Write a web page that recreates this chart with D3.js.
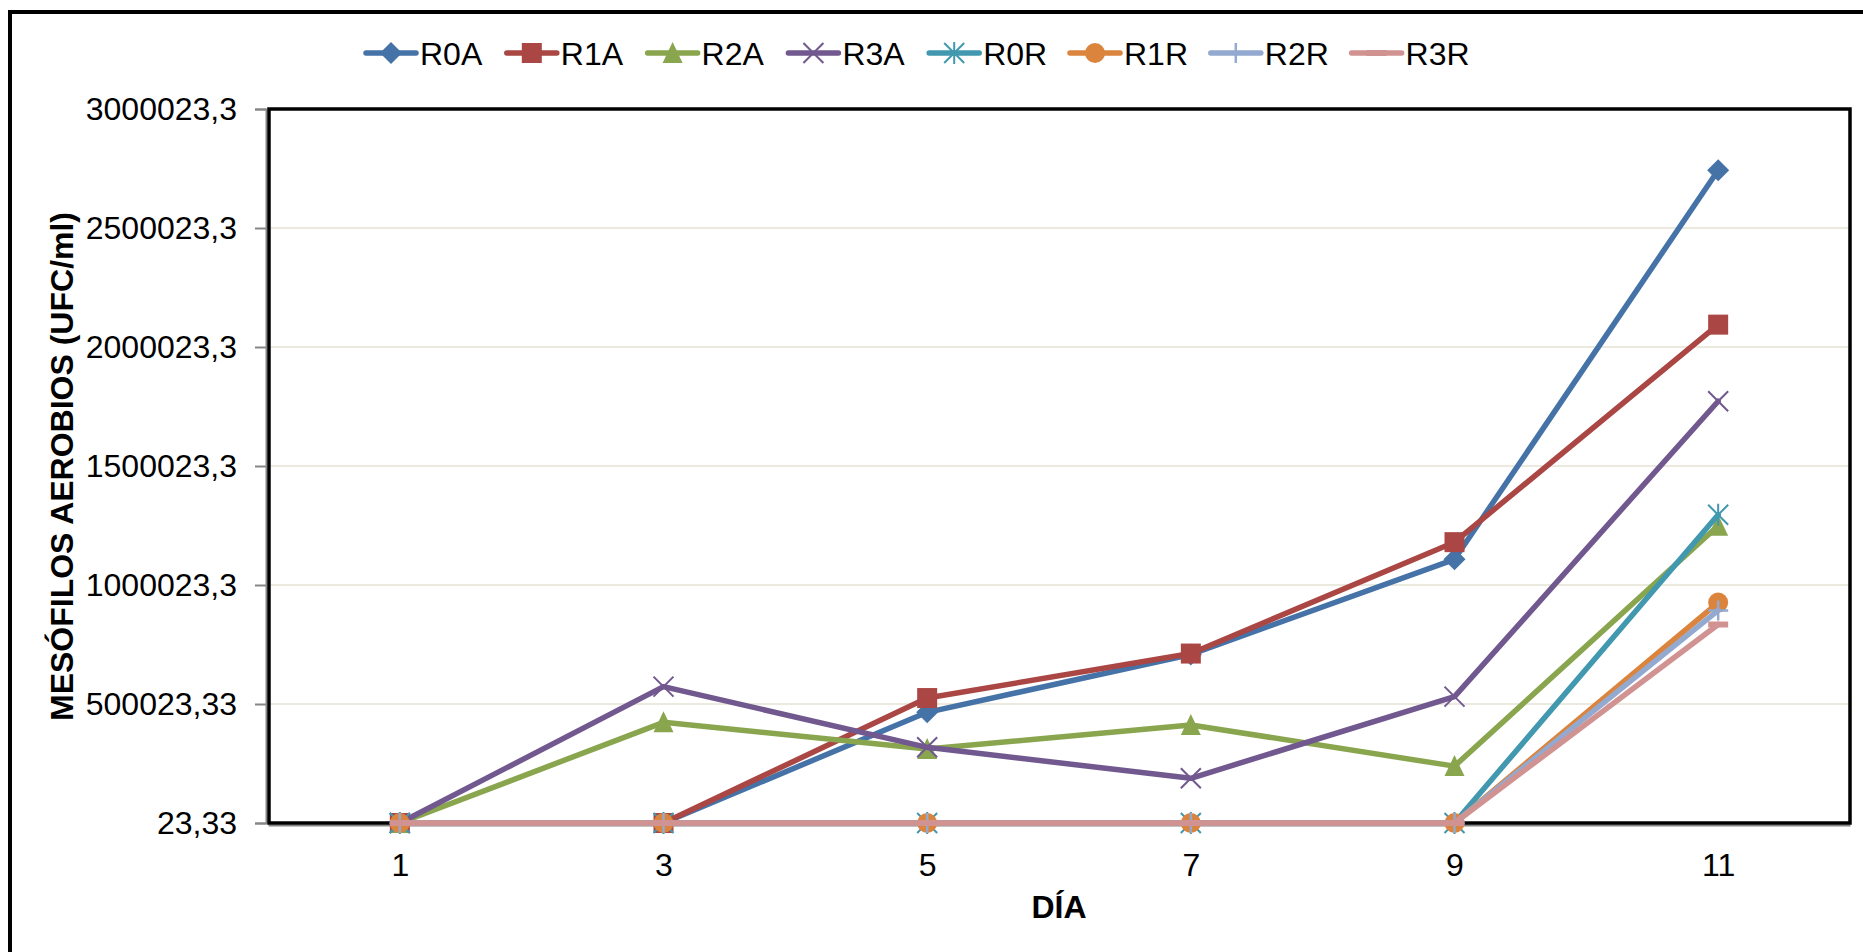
<!DOCTYPE html>
<html>
<head>
<meta charset="utf-8">
<script src="https://cdn.jsdelivr.net/npm/d3@7"></script>
<style>
  html, body { margin: 0; padding: 0; background: #fff; }
  svg { display: block; }
  text { font-family: "Liberation Sans", Arial, sans-serif; fill: #000; }
</style>
</head>
<body>
<svg id="chart" width="1863" height="952"></svg>
<script>
// Días de muestreo
const days = [1, 3, 5, 7, 9, 11];

// Recuento de mesófilos aerobios (UFC/ml) por tratamiento
const R0A = [23.33, 23.33, 465000, 708000, 1108000, 2743000];
const R1A = [23.33, 23.33, 525000, 712000, 1180000, 2094000];
const R2A = [23.33, 423000, 311000, 412000, 239000, 1249000];
const R3A = [23.33, 573000, 318000, 188000, 531000, 1772000];
const R0R = [23.33, 23.33, 23.33, 23.33, 23.33, 1295000];
const R1R = [23.33, 23.33, 23.33, 23.33, 23.33, 926000];
const R2R = [23.33, 23.33, 23.33, 23.33, 23.33, 893000];
const R3R = [23.33, 23.33, 23.33, 23.33, 23.33, 834000];

const seriesNames = ["R0A", "R1A", "R2A", "R3A", "R0R", "R1R", "R2R", "R3R"];
const seriesValues = [R0A, R1A, R2A, R3A, R0R, R1R, R2R, R3R];
const seriesColors = ["#4572A7", "#AA4643", "#89A54E", "#71588F", "#4198AF", "#DB843D", "#93A9CF", "#D19392"];
const seriesMarkers = ["diamond", "square", "triangle", "x", "asterisk", "circle", "plus", "dash"];

// Marcas del eje vertical
const yTickValues = [23.33, 500023.33, 1000023.3, 1500023.3, 2000023.3, 2500023.3, 3000023.3];
const yTickLabels = ["23,33", "500023,33", "1000023,3", "1500023,3", "2000023,3", "2500023,3", "3000023,3"];

const svg = d3.select("#chart");
const plot = { left: 268, right: 1850, top: 109, bottom: 823 };

const x = d3.scalePoint().domain(days).range([plot.left, plot.right]).padding(0.5);
const y = d3.scaleLinear().domain([23.33, 3000023.33]).range([plot.bottom, plot.top]);

// Marco exterior del gráfico
svg.append("rect")
  .attr("x", 10).attr("y", 12).attr("width", 1900).attr("height", 1000)
  .attr("fill", "none").attr("stroke", "#000").attr("stroke-width", 4);

// Líneas de división horizontales
svg.append("g")
  .selectAll("line")
  .data(yTickValues.slice(1, -1))
  .join("line")
  .attr("x1", plot.left).attr("x2", plot.right)
  .attr("y1", d => y(d)).attr("y2", d => y(d))
  .attr("stroke", "#ECE9DF").attr("stroke-width", 2);

// Eje Y
const yAxis = d3.axisLeft(y)
  .tickValues(yTickValues)
  .tickFormat((d, i) => yTickLabels[i])
  .tickSize(11)
  .tickPadding(18);
const gy = svg.append("g").attr("transform", `translate(${plot.left - 2},0)`).call(yAxis);
gy.select(".domain").attr("stroke", "#868686").attr("stroke-width", 2);
gy.selectAll(".tick line").attr("stroke", "#868686").attr("stroke-width", 2);
gy.selectAll(".tick text")
  .attr("font-size", 32)
  .attr("font-family", "Liberation Sans, Arial, sans-serif")
  .attr("fill", "#000");

// Eje X
const xAxis = d3.axisBottom(x).tickSize(0).tickPadding(28);
const gx = svg.append("g").attr("transform", `translate(0,${plot.bottom + 2})`).call(xAxis);
gx.select(".domain").attr("stroke", "#868686").attr("stroke-width", 2);
gx.selectAll(".tick text")
  .attr("font-size", 32)
  .attr("font-family", "Liberation Sans, Arial, sans-serif")
  .attr("fill", "#000");

// Borde del área de trazado
svg.append("rect")
  .attr("x", plot.left + 1).attr("y", plot.top)
  .attr("width", plot.right - plot.left - 1).attr("height", plot.bottom - plot.top)
  .attr("fill", "none").attr("stroke", "#000").attr("stroke-width", 3.5);

// Símbolos de marcador
function drawMarker(g, type, color, s) {
  const h = s / 2;
  switch (type) {
    case "diamond":
      g.append("path").attr("d", `M0,${-h - 1}L${h + 1},0L0,${h + 1}L${-h - 1},0Z`).attr("fill", color);
      break;
    case "square":
      g.append("rect").attr("x", -h).attr("y", -h).attr("width", s).attr("height", s).attr("fill", color);
      break;
    case "triangle":
      g.append("path").attr("d", `M0,${-h - 1}L${h},${h}L${-h},${h}Z`).attr("fill", color);
      break;
    case "x":
      g.append("path").attr("d", `M${-h},${-h}L${h},${h}M${-h},${h}L${h},${-h}`)
        .attr("stroke", color).attr("stroke-width", 2).attr("fill", "none");
      break;
    case "asterisk":
      g.append("path").attr("d", `M${-h},${-h}L${h},${h}M${-h},${h}L${h},${-h}M0,${-h - 1}L0,${h + 1}`)
        .attr("stroke", color).attr("stroke-width", 2).attr("fill", "none");
      break;
    case "circle":
      g.append("circle").attr("r", h).attr("fill", color);
      break;
    case "plus":
      g.append("path").attr("d", `M${-h},0L${h},0M0,${-h}L0,${h}`)
        .attr("stroke", color).attr("stroke-width", 2.5).attr("fill", "none");
      break;
    case "dash":
      g.append("rect").attr("x", -h).attr("y", -3).attr("width", s).attr("height", 6).attr("fill", color);
      break;
  }
}

// Series: línea y marcadores
const line = d3.line().x((d, i) => x(days[i])).y(d => y(d));
seriesValues.forEach((vals, si) => {
  const g = svg.append("g").attr("class", "series");
  g.append("path")
    .datum(vals)
    .attr("d", line)
    .attr("fill", "none")
    .attr("stroke", seriesColors[si])
    .attr("stroke-width", 5.5)
    .attr("stroke-linejoin", "round")
    .attr("stroke-linecap", "round");
  vals.forEach((v, i) => {
    const mg = g.append("g").attr("transform", `translate(${x(days[i])},${y(v)})`);
    drawMarker(mg, seriesMarkers[si], seriesColors[si], 20);
  });
});

// Títulos de los ejes
svg.append("text")
  .attr("x", (plot.left + plot.right) / 2).attr("y", 918)
  .attr("text-anchor", "middle")
  .attr("font-size", 32).attr("font-weight", "bold")
  .text("DÍA");

svg.append("text")
  .attr("transform", `translate(73,${(720 + 213) / 2}) rotate(-90)`)
  .attr("text-anchor", "middle")
  .attr("font-size", 32).attr("font-weight", "bold")
  .text("MESÓFILOS AEROBIOS (UFC/ml)");

// Leyenda
const legendX0 = 391, legendStep = 140.8, legendY = 53;
seriesNames.forEach((name, si) => {
  const cx = legendX0 + si * legendStep;
  const g = svg.append("g");
  g.append("line")
    .attr("x1", cx - 25).attr("x2", cx + 25)
    .attr("y1", legendY).attr("y2", legendY)
    .attr("stroke", seriesColors[si]).attr("stroke-width", 5.5)
    .attr("stroke-linecap", "round");
  const mg = g.append("g").attr("transform", `translate(${cx},${legendY})`);
  drawMarker(mg, seriesMarkers[si], seriesColors[si], 20);
  g.append("text")
    .attr("x", cx + 29).attr("y", legendY)
    .attr("dy", "0.36em")
    .attr("font-size", 32)
    .text(name);
});
</script>
</body>
</html>
